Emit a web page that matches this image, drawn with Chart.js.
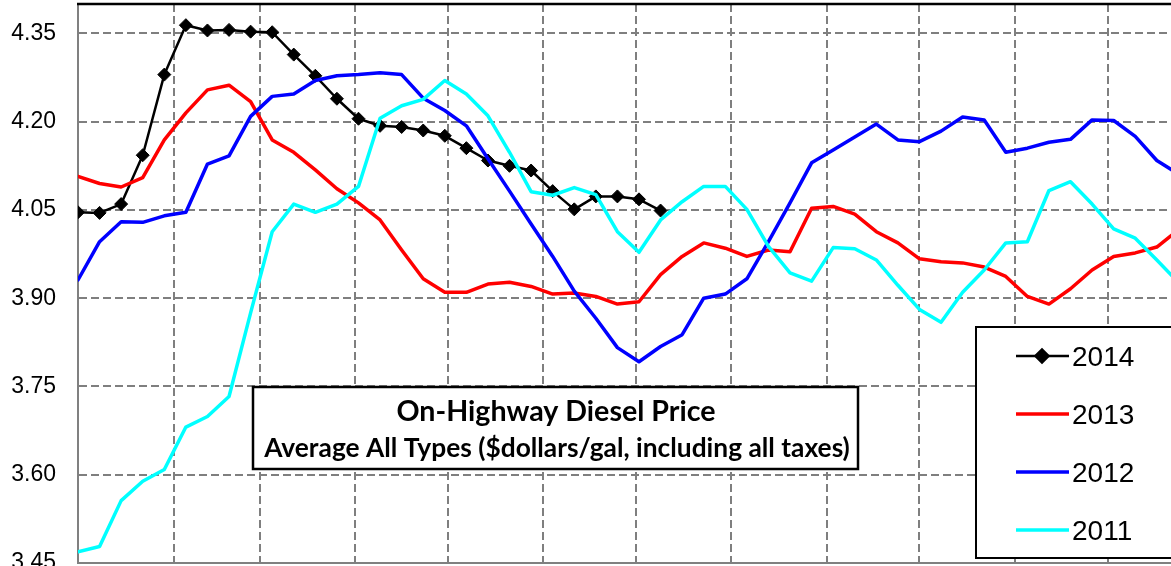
<!DOCTYPE html>
<html>
<head>
<meta charset="utf-8">
<script src="https://cdn.jsdelivr.net/npm/chart.js@4/dist/chart.umd.min.js"></script>
<style>
html,body{margin:0;padding:0;background:#fff;overflow:hidden}
canvas{display:block}
</style>
</head>
<body>
<canvas id="c" width="1171" height="566"></canvas>
<script>
// ---- data ----
const weekDays = [0,7,14,21,28,35,42,49,56,63,70,77,84,91,98,105,112,119,126,133,140,147,154,161,168,175,
  182,189,196,203,210,217,224,231,238,245,252,259,266,273,280,287,294,301,308,315,322,329,336,343,350,357];
const monthGridDays = [0,31,59,90,120,151,181,212,243,273,304,334];
const yTickValues = [3.45,3.60,3.75,3.90,4.05,4.20,4.35];
const seriesNames = ['2014','2013','2012','2011'];
const titleLines = ['On-Highway Diesel Price','Average All Types ($dollars/gal, including all taxes)'];

const price2014 = [4.046,4.045,4.060,4.143,4.280,4.364,4.355,4.356,4.353,4.352,4.314,4.278,4.239,4.205,
  4.193,4.191,4.185,4.176,4.155,4.134,4.125,4.117,4.082,4.051,4.073,4.073,4.068,4.049];
const price2013 = [4.107,4.095,4.089,4.105,4.169,4.215,4.254,4.262,4.234,4.169,4.148,4.118,4.086,4.062,
  4.033,3.982,3.933,3.910,3.910,3.924,3.927,3.920,3.907,3.909,3.903,3.890,3.894,3.940,3.971,3.994,3.985,
  3.971,3.982,3.979,4.053,4.056,4.043,4.013,3.994,3.967,3.962,3.960,3.953,3.937,3.903,3.890,3.916,3.948,
  3.971,3.977,3.987,4.016];
const price2012 = [3.931,3.996,4.030,4.029,4.040,4.046,4.128,4.142,4.209,4.243,4.247,4.270,4.278,4.280,
  4.283,4.280,4.240,4.219,4.193,4.137,4.082,4.026,3.971,3.912,3.866,3.816,3.792,3.818,3.838,3.900,3.907,
  3.933,3.996,4.062,4.130,4.152,4.174,4.196,4.169,4.166,4.184,4.208,4.203,4.148,4.155,4.165,4.170,4.203,
  4.202,4.175,4.134,4.111];
const price2011 = [3.469,3.478,3.556,3.589,3.609,3.681,3.699,3.733,3.875,4.013,4.060,4.046,4.060,4.090,
  4.206,4.227,4.238,4.270,4.247,4.210,4.148,4.081,4.075,4.088,4.076,4.013,3.978,4.033,4.064,4.090,4.090,
  4.051,3.988,3.943,3.929,3.986,3.984,3.965,3.922,3.881,3.859,3.910,3.948,3.994,3.996,4.083,4.098,4.060,
  4.018,4.002,3.965,3.927];

const toPoints = vals => vals.map((v, i) => ({x: weekDays[i], y: v}));

Chart.defaults.font.family = "'Liberation Sans', Arial, sans-serif";
Chart.defaults.color = '#000';

const GRID = '#7f7f7f';

const boxesPlugin = {
  id: 'boxes',
  beforeDatasetsDraw(chart) {
    const {ctx, chartArea} = chart;
    ctx.save();
    ctx.strokeStyle = '#000';
    ctx.lineWidth = 2.5;
    ctx.beginPath();
    ctx.moveTo(chartArea.left - 1, chartArea.top);
    ctx.lineTo(chartArea.right + 2, chartArea.top);
    ctx.stroke();
    ctx.restore();
  },
  afterDatasetsDraw(chart) {
    const ctx = chart.ctx;
    ctx.save();
    // title box
    const tb = {x: 253, y: 387, w: 605, h: 82};
    ctx.fillStyle = '#fff';
    ctx.fillRect(tb.x, tb.y, tb.w, tb.h);
    ctx.lineWidth = 2.5;
    ctx.strokeStyle = '#000';
    ctx.strokeRect(tb.x, tb.y, tb.w, tb.h);
    ctx.fillStyle = '#000';
    ctx.textAlign = 'center';
    ctx.textBaseline = 'alphabetic';
    const fit = (txt, cx, by, target) => {
      ctx.font = "bold 24px Lato, 'Open Sans', sans-serif";
      const w = ctx.measureText(txt).width;
      const size = 24 * target / w;
      ctx.font = "bold " + size.toFixed(2) + "px Lato, 'Open Sans', sans-serif";
      ctx.fillText(txt, cx, by);
    };
    fit(titleLines[0], 556, 421, 319);
    fit(titleLines[1], 557, 457, 586);

    // legend box
    const lb = {x: 976, y: 327, w: 240, h: 231};
    ctx.fillStyle = '#fff';
    ctx.fillRect(lb.x, lb.y, lb.w, lb.h);
    ctx.lineWidth = 2;
    ctx.strokeStyle = '#000';
    ctx.strokeRect(lb.x, lb.y, lb.w, lb.h);
    ctx.font = "28px 'Liberation Sans', Arial, sans-serif";
    ctx.textAlign = 'left';
    chart.data.datasets.forEach((ds, i) => {
      const y = 356 + i * 58;
      ctx.strokeStyle = ds.borderColor;
      ctx.lineWidth = ds.borderWidth;
      ctx.beginPath();
      ctx.moveTo(1016, y);
      ctx.lineTo(1069, y);
      ctx.stroke();
      if (ds.pointRadius > 0) {
        Chart.helpers.drawPoint(ctx, {pointStyle: 'rectRot', rotation: 0, borderWidth: 1,
          radius: ds.pointRadius}, 1042, y);
        ctx.fillStyle = ds.pointBackgroundColor;
        ctx.fill();
      }
      ctx.fillStyle = '#000';
      ctx.fillText(ds.label, 1072, y + 10);
    });
    ctx.restore();
  }
};

new Chart(document.getElementById('c'), {
  type: 'line',
  data: {
    datasets: [
      {label: seriesNames[0], data: toPoints(price2014), borderColor: '#000', borderWidth: 2.5,
       pointStyle: 'rectRot', pointRadius: 6.5, pointBackgroundColor: '#000', pointBorderColor: '#000',
       pointBorderWidth: 1, order: 4},
      {label: seriesNames[1], data: toPoints(price2013), borderColor: '#ff0000', borderWidth: 3.5,
       pointRadius: 0, order: 3},
      {label: seriesNames[2], data: toPoints(price2012), borderColor: '#0000ff', borderWidth: 3.5,
       pointRadius: 0, order: 2},
      {label: seriesNames[3], data: toPoints(price2011), borderColor: '#00ffff', borderWidth: 3.5,
       pointRadius: 0, order: 1}
    ]
  },
  options: {
    responsive: false,
    animation: false,
    devicePixelRatio: 1,
    layout: {autoPadding: false, padding: {top: 4, bottom: 3, left: 0, right: 0}},
    elements: {line: {tension: 0, borderJoinStyle: 'round', borderCapStyle: 'round', fill: false}},
    plugins: {legend: {display: false}, tooltip: {enabled: false}},
    scales: {
      x: {
        type: 'linear', min: 0, max: 354.6,
        afterBuildTicks: s => { s.ticks = monthGridDays.map(v => ({value: v})); },
        afterFit: s => { s.height = 0; s.paddingLeft = 0; s.paddingRight = 0; },
        ticks: {display: false},
        grid: {color: GRID, lineWidth: 2, drawTicks: false},
        border: {display: true, color: '#808080', width: 2, dash: [8, 4]}
      },
      y: {
        type: 'linear', min: 3.45, max: 4.40,
        afterBuildTicks: s => { s.ticks = yTickValues.map(v => ({value: v})); },
        afterFit: s => { s.width = 78; s.paddingTop = 0; s.paddingBottom = 0; },
        ticks: {color: '#000', font: {size: 23}, padding: 22,
                callback: v => Number(v).toFixed(2)},
        grid: {color: GRID, lineWidth: 2, drawTicks: false},
        border: {display: true, color: '#808080', width: 2, dash: [8, 4]}
      }
    }
  },
  plugins: [boxesPlugin]
});
</script>
</body>
</html>
